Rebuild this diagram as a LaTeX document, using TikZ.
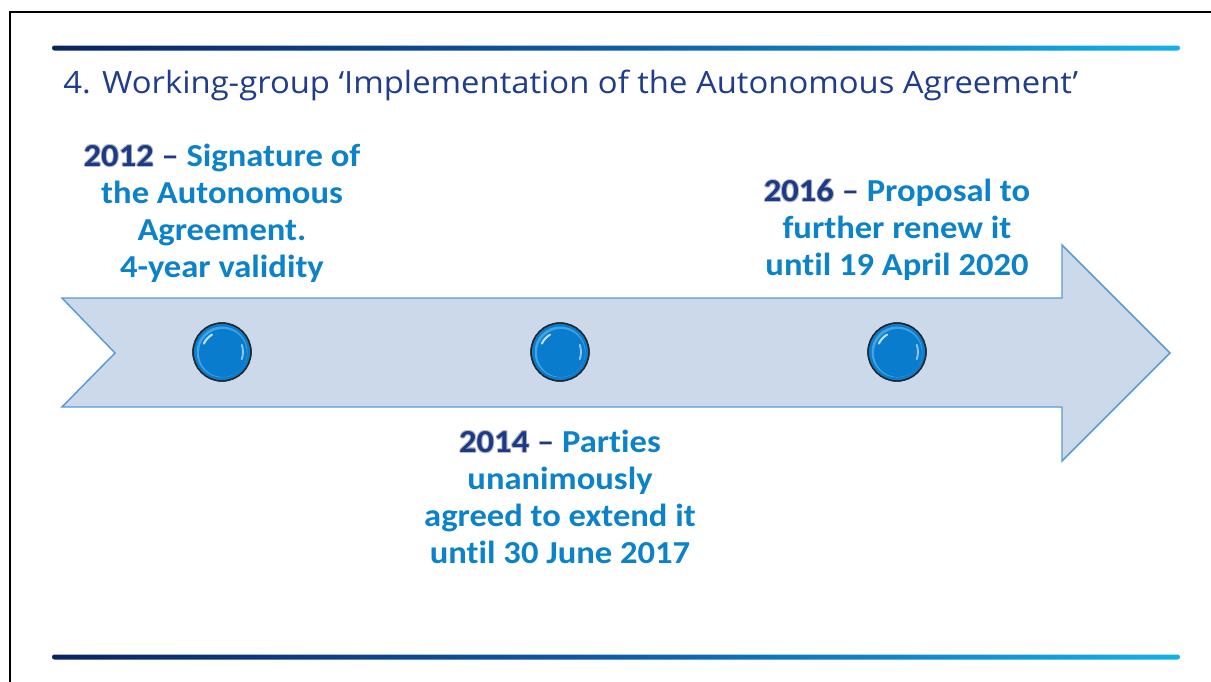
\documentclass[tikz,border=0pt]{standalone}
\usepackage{fontspec}
\setmainfont[RawFeature=-liga, FakeStretch=1.08]{Carlito}
\newfontfamily\titlefont[FakeStretch=1.07]{Open Sans}
\definecolor{titleblue}{HTML}{1F3D8C}
\definecolor{txtblue}{HTML}{0B82C9}
\definecolor{yearblue}{HTML}{1C3A88}
\definecolor{glow}{HTML}{B8BCC4}
\definecolor{arrowfill}{HTML}{CCD9EA}
\definecolor{arrowline}{HTML}{5A9BD3}
\definecolor{navy}{HTML}{0A2462}
\definecolor{midblue}{HTML}{0F5CA6}
\definecolor{cyanline}{HTML}{14B1E6}
\definecolor{dotblue}{HTML}{0A7CCD}
\definecolor{dotlight}{HTML}{3FA3E6}
\newcommand\gl[3]{\makebox[0pt][l]{\hspace{#1}\raisebox{#2}{\color{glow}#3}}}
\newcommand\yr[1]{\leavevmode\gl{0.7pt}{0pt}{#1}\gl{-0.7pt}{0pt}{#1}\gl{0pt}{0.7pt}{#1}\gl{0pt}{-0.7pt}{#1}\gl{0.5pt}{0.5pt}{#1}\gl{-0.5pt}{-0.5pt}{#1}\gl{0.5pt}{-0.5pt}{#1}\gl{-0.5pt}{0.5pt}{#1}{\color{yearblue}#1}}
\newcommand\dash{{\color{yearblue}–}}
\tikzset{
  event/.style={font=\fontsize{24}{27.75}\selectfont\bfseries, text=txtblue, align=center, inner sep=0pt},
  dot/.style={circle, minimum size=58*0.75pt, inner sep=0pt, fill=dotblue, draw=black!85, line width=1pt},
  rule/.style={rounded corners=1.8pt, left color=navy, right color=cyanline, middle color=midblue}
}
\begin{document}
\begin{tikzpicture}[x=0.75pt, y=-0.75pt]
\useasboundingbox (0,0) rectangle (1211,682);
\fill[white] (0,0) rectangle (1211,682);
% frame
\draw[line width=1.6pt] (10,690) -- (10,12) -- (1220,12);
% rules
\shade[rule] (52,45.5) rectangle (1180,50.5);
\shade[rule] (52,654.5) rectangle (1180,659.5);
% title
\node[anchor=base west, inner sep=0pt, font=\titlefont\fontsize{23}{26}\selectfont, text=titleblue] (title) at (63,93) {4. Working-group ‘Implementation of the Autonomous Agreement’};
% arrow
\draw[fill=arrowfill, draw=arrowline, line width=1.1pt, line join=miter]
  (62,298) -- (1062,298) -- (1062,245) -- (1170,353) -- (1062,461) -- (1062,407) -- (62,407) -- (115,353) -- cycle;
% dots
\foreach \n/\x in {a/222,b/560,c/897}{
  \node[dot] (dot\n) at (\x,352) {};
  \fill[dotlight] (\x,352) circle (25.5);
  \fill[dotblue] (\x+1,353) circle (24);
  \draw[white, opacity=0.75, line width=1.6pt, line cap=round] ([shift={(\x,352)}]205:20) arc[start angle=205, end angle=240, radius=20];
  \draw[white, opacity=0.55, line width=1.4pt, line cap=round] ([shift={(\x,352)}]20:21) arc[start angle=20, end angle=-20, radius=21];
  \draw[black!85, line width=1pt] (dot\n) circle (29);
}
% texts
\node[event] (e2012) at (222,213) {\yr{2012} \dash{} Signature of\\the Autonomous\\Agreement.\\4-year validity};
\node[event] (e2014) at (560,497) {\yr{2014} \dash{} Parties\\unanimously\\agreed to extend it\\until 30 June 2017};
\node[event] (e2016) at (897,230) {\yr{2016} \dash{} Proposal to\\further renew it\\until 19 April 2020};
\end{tikzpicture}
\end{document}
